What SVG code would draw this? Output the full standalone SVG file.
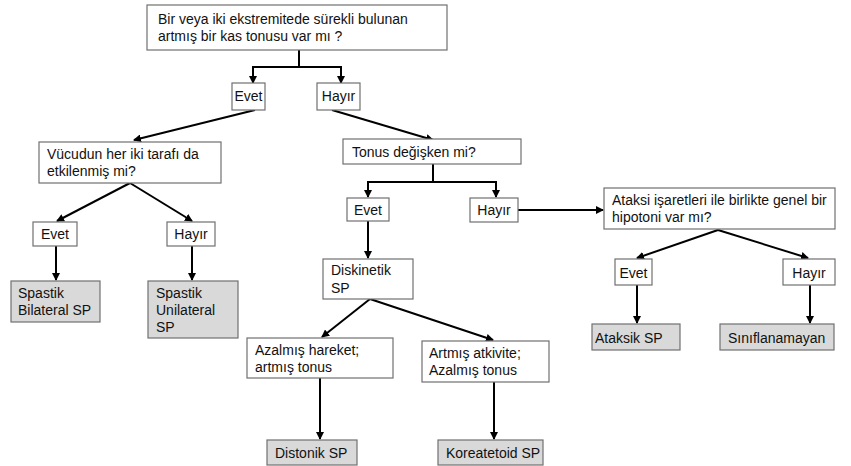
<svg xmlns="http://www.w3.org/2000/svg" width="851" height="466" viewBox="0 0 851 466">
  <style>
    .box { fill: #ffffff; stroke: #707070; stroke-width: 1.2; }
    .leaf { fill: #d9d9d9; stroke: #707070; stroke-width: 1.2; }
    text { font-family: "Liberation Sans", Arial, sans-serif; font-size: 14px; fill: #111111; }
    .c { text-anchor: middle; }
    .edge { fill: none; stroke: #000000; stroke-width: 2; marker-end: url(#arrow); }
    .bar { fill: none; stroke: #000000; stroke-width: 2; }
  </style>
  <defs>
    <marker id="arrow" viewBox="0 0 8 8" refX="7" refY="4" markerWidth="4" markerHeight="4" markerUnits="strokeWidth" orient="auto">
      <path d="M0,0 L8,4 L0,8 z" fill="#000000"/>
    </marker>
  </defs>
  <rect width="851" height="466" fill="#ffffff"/>

  <g id="connectors">
    <!-- root split -->
    <path class="bar" d="M299,50 V67 M253,67 H341"/>
    <path class="edge" d="M253,66 V83"/>
    <path class="edge" d="M341,66 V83"/>
    <!-- root answers -->
    <path class="edge" d="M255,110 L134,140"/>
    <path class="edge" d="M332,110 L433,140"/>
    <!-- both sides question -->
    <path class="edge" d="M130,183 L57,221"/>
    <path class="edge" d="M130,183 L192,221"/>
    <path class="edge" d="M56,246 V280"/>
    <path class="edge" d="M192,246 V280"/>
    <!-- tone variability split -->
    <path class="bar" d="M433,164 V182 M368,182 H496"/>
    <path class="edge" d="M368,181 V197"/>
    <path class="edge" d="M496,181 V197"/>
    <path class="edge" d="M368,221 V258"/>
    <path class="edge" d="M518,210 H603"/>
    <!-- ataxia question -->
    <path class="edge" d="M718,230 L637,258"/>
    <path class="edge" d="M718,230 L808,258"/>
    <path class="edge" d="M637,285 V323"/>
    <path class="edge" d="M810,285 V323"/>
    <!-- dyskinetic -->
    <path class="edge" d="M370,299 L322,337"/>
    <path class="edge" d="M370,299 L493,340"/>
    <path class="edge" d="M320,378 V439"/>
    <path class="edge" d="M494,382 V439"/>
  </g>

  <g id="q-root">
    <rect class="box" x="147" y="5" width="300" height="45"/>
    <text x="158" y="24">Bir veya iki ekstremitede sürekli bulunan</text>
    <text x="158" y="41">artmış bir kas tonusu var mı ?</text>
  </g>
  <g id="a-root-yes">
    <rect class="box" x="232" y="83" width="33" height="27"/>
    <text class="c" x="248.5" y="101">Evet</text>
  </g>
  <g id="a-root-no">
    <rect class="box" x="317" y="83" width="43" height="27"/>
    <text class="c" x="338.5" y="101">Hayır</text>
  </g>

  <g id="q-sides">
    <rect class="box" x="39" y="142" width="182" height="41"/>
    <text x="47" y="159">Vücudun her iki tarafı da</text>
    <text x="47" y="176">etkilenmiş mi?</text>
  </g>
  <g id="a-sides-yes">
    <rect class="box" x="33" y="222" width="44" height="24"/>
    <text class="c" x="55" y="239">Evet</text>
  </g>
  <g id="a-sides-no">
    <rect class="box" x="167" y="222" width="48" height="24"/>
    <text class="c" x="191" y="239">Hayır</text>
  </g>
  <g id="r-bilateral">
    <rect class="leaf" x="11" y="281" width="89" height="41"/>
    <text x="18" y="298">Spastik</text>
    <text x="18" y="315">Bilateral SP</text>
  </g>
  <g id="r-unilateral">
    <rect class="leaf" x="148" y="281" width="90" height="57"/>
    <text x="156" y="298">Spastik</text>
    <text x="156" y="315">Unilateral</text>
    <text x="156" y="332">SP</text>
  </g>

  <g id="q-tone">
    <rect class="box" x="343" y="139" width="178" height="25"/>
    <text x="352" y="157">Tonus değişken mi?</text>
  </g>
  <g id="a-tone-yes">
    <rect class="box" x="347" y="198" width="42" height="23"/>
    <text class="c" x="368" y="215">Evet</text>
  </g>
  <g id="a-tone-no">
    <rect class="box" x="470" y="198" width="48" height="24"/>
    <text class="c" x="494" y="215">Hayır</text>
  </g>
  <g id="r-dyskinetic">
    <rect class="box" x="323" y="259" width="90" height="40"/>
    <text x="331" y="275">Diskinetik</text>
    <text x="331" y="293">SP</text>
  </g>
  <g id="q-reduced">
    <rect class="box" x="247" y="338" width="146" height="40"/>
    <text x="255" y="355">Azalmış hareket;</text>
    <text x="255" y="372">artmış tonus</text>
  </g>
  <g id="q-increased">
    <rect class="box" x="422" y="341" width="127" height="41"/>
    <text x="429" y="358">Artmış atkivite;</text>
    <text x="429" y="375">Azalmış tonus</text>
  </g>
  <g id="r-dystonic">
    <rect class="leaf" x="267" y="440" width="90" height="25"/>
    <text x="275" y="458">Distonik SP</text>
  </g>
  <g id="r-choreoathetoid">
    <rect class="leaf" x="438" y="440" width="105" height="25"/>
    <text x="446" y="458">Koreatetoid SP</text>
  </g>

  <g id="q-ataxia">
    <rect class="box" x="604" y="188" width="231" height="41"/>
    <text x="612" y="205">Ataksi işaretleri ile birlikte genel bir</text>
    <text x="612" y="222">hipotoni var mı?</text>
  </g>
  <g id="a-ataxia-yes">
    <rect class="box" x="615" y="259" width="37" height="26"/>
    <text class="c" x="633.5" y="278">Evet</text>
  </g>
  <g id="a-ataxia-no">
    <rect class="box" x="783" y="259" width="52" height="26"/>
    <text class="c" x="809" y="278">Hayır</text>
  </g>
  <g id="r-ataxic">
    <rect class="leaf" x="592" y="324" width="88" height="26"/>
    <text x="595" y="343">Ataksik SP</text>
  </g>
  <g id="r-unclassified">
    <rect class="leaf" x="720" y="324" width="114" height="26"/>
    <text x="728" y="343">Sınıflanamayan</text>
  </g>
</svg>
